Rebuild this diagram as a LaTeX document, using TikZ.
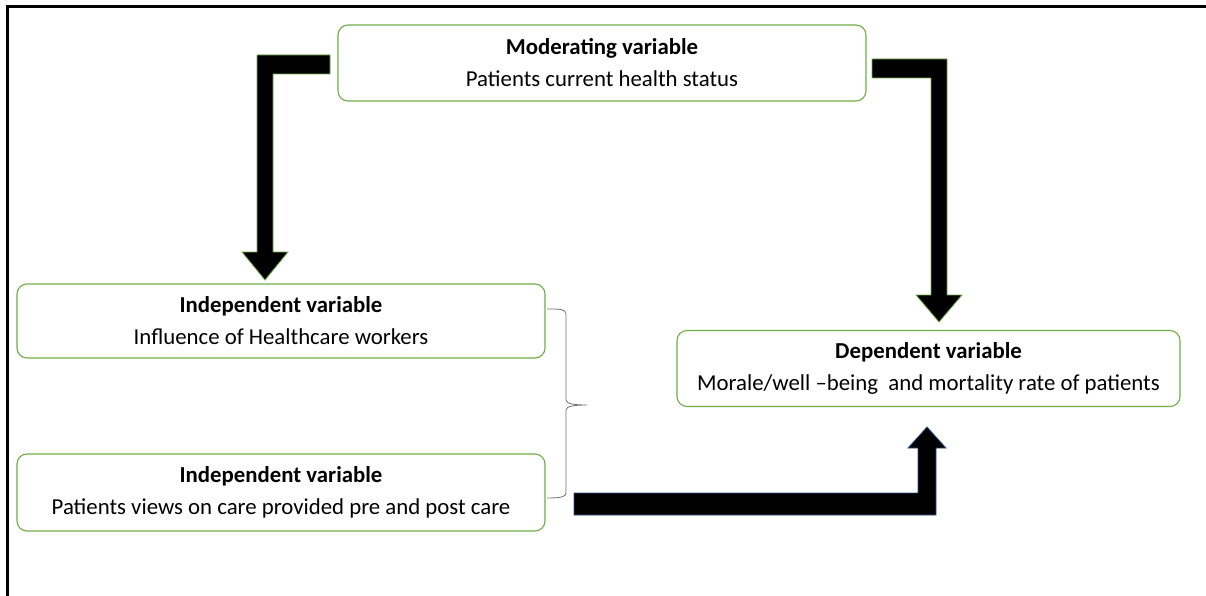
\documentclass[tikz,border=0pt]{standalone}
\usepackage{fontspec}
\setmainfont{Carlito}
\definecolor{boxgreen}{HTML}{70AD47}
\definecolor{arrowblue}{HTML}{2F528F}
\definecolor{bracegray}{HTML}{707070}
\begin{document}
\begin{tikzpicture}[x=1pt,y=-1pt,
  varbox/.style={draw=boxgreen, line width=1.1pt, rounded corners=10pt, fill=white,
    inner sep=0pt, align=center, font=\fontsize{22.8}{32}\selectfont},
  blockarrow/.style={fill=black, draw=boxgreen, line width=0.8pt, line join=miter},
  bluearrow/.style={fill=black, draw=arrowblue, line width=0.8pt, line join=miter},
  bracestyle/.style={draw=bracegray, line width=0.8pt}]
\useasboundingbox (0,0) rectangle (1206,596);
% frame
\draw[line width=2.5pt] (7.5,596) -- (7.5,6.5) -- (1206,6.5);
% boxes
\node[varbox, minimum width=528pt, minimum height=76pt] (mod) at (602,63)
  {\textbf{Moderating variable}\\Patients current health status};
\node[varbox, minimum width=528pt, minimum height=74pt] (ind1) at (281,321)
  {\textbf{Independent variable}\\Influence of Healthcare workers};
\node[varbox, minimum width=528pt, minimum height=77pt] (ind2) at (281,492.5)
  {\textbf{Independent variable}\\Patients views on care provided pre and post care};
\node[varbox, minimum width=503pt, minimum height=76pt] (dep) at (928.5,368.5)
  {\textbf{Dependent variable}\\Morale/well \textendash being\ \ and mortality rate of patients};
% block arrows
\draw[blockarrow] (330,55) -- (257,55) -- (257,252) -- (242,252) -- (265,280)
  -- (288,252) -- (273,252) -- (273,74) -- (330,74) -- cycle;
\draw[blockarrow] (872,59) -- (947,59) -- (947,295) -- (962,295) -- (939,322)
  -- (916,295) -- (931,295) -- (931,78) -- (872,78) -- cycle;
\draw[bluearrow] (574,493) -- (918,493) -- (918,448) -- (908,448) -- (927,427)
  -- (946,448) -- (936,448) -- (936,515) -- (574,515) -- cycle;
% brace
\draw[bracestyle] (547,309) .. controls (560,309) and (566,309) .. (566,314)
  -- (566,400) .. controls (566,404) and (575,405) .. (587,405)
  .. controls (575,405) and (566,406) .. (566,410)
  -- (566,493) .. controls (566,497) and (560,498) .. (547,498);
\end{tikzpicture}
\end{document}
